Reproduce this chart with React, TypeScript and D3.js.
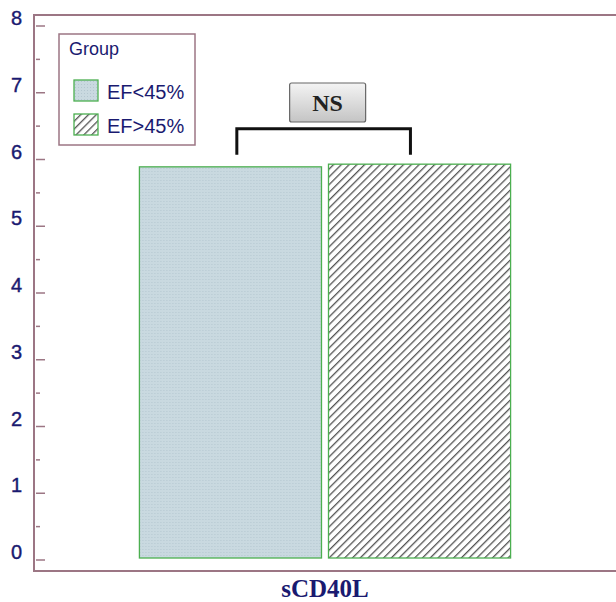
import { useEffect, useRef } from 'react';
import * as d3 from 'd3';

const groups = ['EF<45%', 'EF>45%'];
const variable = ['sCD40L'];
const means = [5.89, 5.93];
const yTicks = [0, 1, 2, 3, 4, 5, 6, 7, 8];
const sigLabel = 'NS';

const App = () => {
  const svgRef = useRef<SVGSVGElement>(null);

  useEffect(() => {
    const w = 616;
    const h = 602;
    const svg = d3.select(svgRef.current);
    svg.selectAll('*').remove();
    svg.attr('width', w).attr('height', h);

    const frame = '#9c7684';
    const navy = '#1a1a70';
    const green = '#4caf50';
    const sans = 'Liberation Sans, Arial, sans-serif';
    const serif = 'Liberation Serif, Times New Roman, serif';

    const x0 = d3.scaleBand<string>().domain(variable).range([34, 616]).paddingInner(0).paddingOuter(0.284);
    const x1 = d3.scaleBand<string>().domain(groups).range([0, x0.bandwidth()]).paddingInner(0.037);
    const y = d3.scaleLinear().domain([0, 8]).range([560, 26]);

    const defs = svg.append('defs');
    // fine dotted light blue fill
    const dot = defs.append('pattern').attr('id', 'dots').attr('patternUnits', 'userSpaceOnUse')
      .attr('width', 3).attr('height', 3);
    dot.append('rect').attr('width', 3).attr('height', 3).attr('fill', '#c9d9e0');
    dot.append('rect').attr('width', 1).attr('height', 1).attr('fill', '#b4c7d0');
    // diagonal hatch
    const hatch = defs.append('pattern').attr('id', 'hatch').attr('patternUnits', 'userSpaceOnUse')
      .attr('width', 5.5).attr('height', 5.5).attr('patternTransform', 'rotate(45)');
    hatch.append('rect').attr('width', 5.5).attr('height', 5.5).attr('fill', '#fff');
    hatch.append('line').attr('x1', 0).attr('y1', 0).attr('x2', 0).attr('y2', 5.5)
      .attr('stroke', '#555').attr('stroke-width', 2.6);
    const grad = defs.append('linearGradient').attr('id', 'btn').attr('x1', 0).attr('y1', 0).attr('x2', 0).attr('y2', 1);
    grad.append('stop').attr('offset', '0%').attr('stop-color', '#f4f4f4');
    grad.append('stop').attr('offset', '100%').attr('stop-color', '#c4c4c4');

    const fills = ['url(#dots)', 'url(#hatch)'];

    // frame
    svg.append('line').attr('x1', 34).attr('x2', 616).attr('y1', 15).attr('y2', 15).attr('stroke', frame).attr('stroke-width', 2);
    svg.append('line').attr('x1', 34).attr('x2', 616).attr('y1', 571).attr('y2', 571).attr('stroke', frame).attr('stroke-width', 2);
    svg.append('line').attr('x1', 34).attr('x2', 34).attr('y1', 14).attr('y2', 572).attr('stroke', frame).attr('stroke-width', 2);

    // y axis ticks inside
    const ax = svg.append('g');
    const minor = d3.range(0, 8, 0.5).filter(v => v % 1 !== 0);
    ax.selectAll('line.major').data(yTicks).enter().append('line')
      .attr('x1', 36).attr('x2', 45).attr('y1', d => y(d)).attr('y2', d => y(d))
      .attr('stroke', frame).attr('stroke-width', 1.5);
    ax.selectAll('line.minor').data(minor).enter().append('line')
      .attr('x1', 36).attr('x2', 40).attr('y1', d => y(d)).attr('y2', d => y(d))
      .attr('stroke', frame).attr('stroke-width', 1.5);
    ax.selectAll('text').data(yTicks).enter().append('text')
      .attr('x', 22).attr('y', d => y(d) - 1)
      .attr('text-anchor', 'end')
      .attr('fill', navy)
      .attr('stroke', navy).attr('stroke-width', 0.4)
      .style('font-family', sans)
      .style('font-size', '20px')
      .text(d => d);

    // bars
    const off = x0(variable[0])!;
    const g = svg.append('g').attr('transform', `translate(${off}, 0)`);
    g.selectAll('rect').data(groups).enter().append('rect')
      .attr('x', d => x1(d)!)
      .attr('y', (d, i) => y(means[i]))
      .attr('width', x1.bandwidth())
      .attr('height', (d, i) => y(0) - y(means[i]) - 2)
      .attr('fill', (d, i) => fills[i])
      .attr('stroke', green)
      .attr('stroke-width', 1.3);

    // significance bracket
    const bx1 = off + x1(groups[0])! + x1.bandwidth() * 0.535;
    const bx2 = off + x1(groups[1])! + x1.bandwidth() * 0.45;
    const by = y(6.46);
    const bot = y(6.07);
    svg.append('path')
      .attr('d', `M${bx1},${bot} V${by} H${bx2} V${bot}`)
      .attr('fill', 'none').attr('stroke', '#111').attr('stroke-width', 3);
    const cx = (bx1 + bx2) / 2 + 4;
    svg.append('rect').attr('x', cx - 38).attr('y', 83).attr('width', 76).attr('height', 39)
      .attr('fill', 'url(#btn)').attr('stroke', '#666').attr('stroke-width', 1.2).attr('rx', 2);
    svg.append('text').attr('x', cx).attr('y', 111).attr('text-anchor', 'middle')
      .style('font-family', serif)
      .style('font-weight', 'bold').style('font-size', '24px').attr('fill', '#222')
      .text(sigLabel);

    // legend
    const lg = svg.append('g');
    lg.append('rect').attr('x', 59).attr('y', 34).attr('width', 136).attr('height', 111)
      .attr('fill', '#fff').attr('stroke', frame).attr('stroke-width', 1.5);
    lg.append('text').attr('x', 69).attr('y', 55).attr('fill', navy)
      .style('font-family', sans).style('font-size', '18px')
      .text('Group');
    groups.forEach((grp, i) => {
      const yy = 80 + i * 34;
      lg.append('rect').attr('x', 74).attr('y', yy).attr('width', 24).attr('height', 21)
        .attr('fill', fills[i]).attr('stroke', green).attr('stroke-width', 1.3);
      lg.append('text').attr('x', 107).attr('y', yy + 19).attr('fill', navy)
        .style('font-family', sans).style('font-size', '20px')
        .text(grp);
    });

    // x label
    svg.append('text').attr('x', off + x0.bandwidth() / 2).attr('y', 597).attr('text-anchor', 'middle')
      .attr('fill', navy)
      .style('font-family', serif)
      .style('font-weight', 'bold').style('font-size', '25px')
      .text(variable[0]);
  }, []);

  return <svg ref={svgRef} style={{ position: 'absolute', left: 0, top: 0 }}></svg>;
};

export default App;
